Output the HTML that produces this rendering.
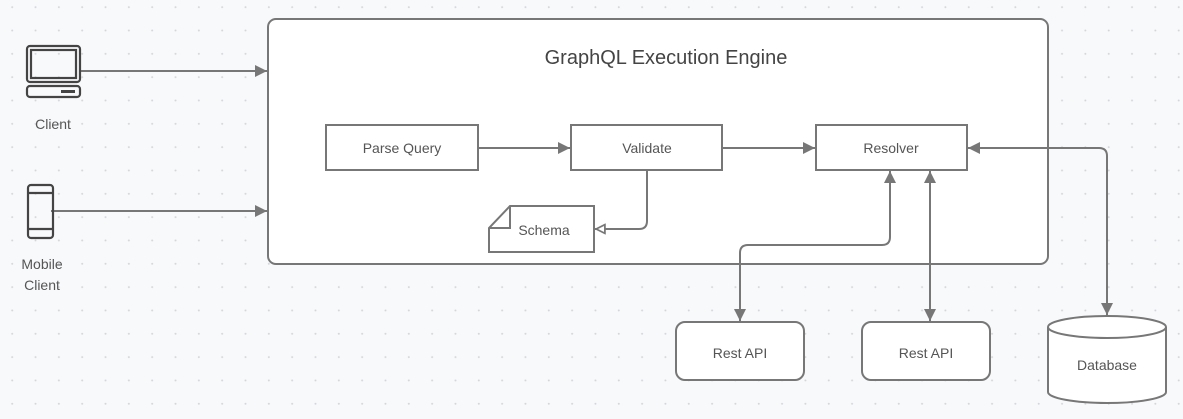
<!DOCTYPE html>
<html><head><meta charset="utf-8"><style>
html,body{margin:0;padding:0;background:#f8f9fb;}
svg{display:block;font-family:"Liberation Sans",sans-serif;}
</style></head><body>
<svg width="1183" height="419" viewBox="0 0 1183 419" xmlns="http://www.w3.org/2000/svg">
<defs>
<pattern id="g" x="0.5" y="-4.5" width="23.33" height="23.33" patternUnits="userSpaceOnUse">
<circle cx="11.7" cy="11.7" r="1" fill="#d4d6da"/>
</pattern>
<marker id="a" viewBox="0 0 10 10" refX="10" refY="5" markerWidth="12" markerHeight="12" markerUnits="userSpaceOnUse" orient="auto-start-reverse">
<path d="M0,0 L10,5 L0,10 z" fill="#777"/>
</marker>
<marker id="o" viewBox="0 0 10 10" refX="10" refY="5" markerWidth="11" markerHeight="11" markerUnits="userSpaceOnUse" orient="auto">
<path d="M1,1 L9,5 L1,9 z" fill="#fff" stroke="#777" stroke-width="1.6"/>
</marker>
</defs>
<rect width="1183" height="419" fill="url(#g)"/>
<g stroke="#777" stroke-width="2" fill="#fff">
<rect x="268" y="19" width="780" height="245" rx="8"/>
<rect x="326" y="125" width="152" height="45"/>
<rect x="571" y="125" width="151" height="45"/>
<rect x="816" y="125" width="151" height="45"/>
<path d="M510,206 H594 V252 H489 V228 Z"/>
<path d="M510,206 V228 H489" fill="none"/>
<rect x="676" y="322" width="128" height="58" rx="9"/>
<rect x="862" y="322" width="128" height="58" rx="9"/>
<path d="M1048,327 V392 A59,11 0 0 0 1166,392 V327 A59,11 0 0 0 1048,327 Z"/>
<path d="M1048,327 A59,11 0 0 0 1166,327" fill="none"/>
</g>
<g stroke="#777" stroke-width="2" fill="none">
<path d="M81,71 H267" marker-end="url(#a)"/>
<path d="M51,211 H267" marker-end="url(#a)"/>
<path d="M478,148 H570" marker-end="url(#a)"/>
<path d="M722,148 H815" marker-end="url(#a)"/>
<path d="M647,171 V221 Q647,229 639,229 H595" marker-end="url(#o)"/>
<path d="M740,321 V253 Q740,245 748,245 H882 Q890,245 890,237 V171" marker-start="url(#a)" marker-end="url(#a)"/>
<path d="M930,321 V171" marker-start="url(#a)" marker-end="url(#a)"/>
<path d="M968,148 H1099 Q1107,148 1107,156 V315" marker-start="url(#a)" marker-end="url(#a)"/>
</g>
<g stroke="#444" stroke-width="2.2" fill="none">
<rect x="27" y="46" width="53" height="36" rx="3"/>
<rect x="31" y="50" width="45" height="28"/>
<rect x="27" y="86" width="53" height="11" rx="3"/>
<rect x="28" y="185" width="25" height="53" rx="3"/>
<path d="M28,193 H53 M28,229 H53"/>
</g>
<rect x="61" y="90" width="14" height="3" fill="#444"/>
<g fill="#555" font-size="14" text-anchor="middle">
<text x="53" y="129">Client</text>
<text x="42" y="269">Mobile</text>
<text x="42" y="290">Client</text>
<text x="402" y="153">Parse Query</text>
<text x="647" y="153">Validate</text>
<text x="891" y="153">Resolver</text>
<text x="544" y="235">Schema</text>
<text x="740" y="358">Rest API</text>
<text x="926" y="358">Rest API</text>
<text x="1107" y="370">Database</text>
<text x="666" y="64" font-size="20" fill="#444">GraphQL Execution Engine</text>
</g>
</svg>
</body></html>
